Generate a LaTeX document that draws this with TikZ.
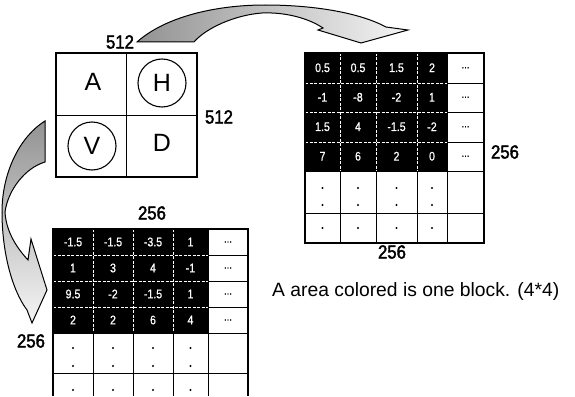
\documentclass[tikz,border=0pt]{standalone}
\usepackage{fontspec}
\setmainfont{Liberation Sans}
\newfontfamily\labfont[FakeStretch=0.88,FakeBold=2]{Liberation Sans}
\newfontfamily\cellfont[FakeStretch=0.85,FakeBold=0.8]{Liberation Sans}
\begin{document}
\begin{tikzpicture}[x=1pt,y=-1pt,
  lab/.style={font=\labfont\fontsize{19}{19}\selectfont, inner sep=0},
  letter/.style={font=\fontsize{25}{25}\selectfont, inner sep=0},
  num/.style={font=\cellfont\fontsize{12.5}{12.5}\selectfont, text=white, inner sep=0},
  ell/.style={font=\cellfont\fontsize{11}{11}\selectfont, inner sep=0},
  outerline/.style={line width=1.7pt},
  gridline/.style={line width=0.9pt},
  wgrid/.style={white, line width=0.5pt, dash pattern=on 3pt off 1.5pt},
  ribbon/.style={draw=black, line width=1pt}]
\useasboundingbox (0,0) rectangle (575,396);

% ---------- curved arrows ----------
\shade[ribbon, left color=gray!85, right color=gray!8]
 (137,42) .. controls (165,17) and (215,5) .. (265,5)
 .. controls (315,5) and (360,13) .. (386,27)
 -- (408,30) -- (361,43) -- (318,30) -- (323,28)
 .. controls (308,18) and (285,12) .. (262,13)
 .. controls (235,15) and (206,28) .. (194,42)
 -- cycle;
\shade[ribbon, top color=gray!85, bottom color=gray!8]
 (45,121) .. controls (18,138) and (2,175) .. (2,212)
 .. controls (2,252) and (12,290) .. (27,310)
 -- (32,323) -- (47,290) -- (31,239) -- (28,260)
 .. controls (15,246) and (6,230) .. (5,212)
 .. controls (8,190) and (25,168) .. (45,162)
 -- cycle;

% ---------- main square ----------
\draw[line width=1.9pt] (56,53) rectangle (197,177);
\draw[line width=1pt] (126.5,53) -- (126.5,177) (56,115) -- (197,115);
\node[letter] (A) at (93,82) {A};
\node[letter, draw, circle, minimum size=48pt, line width=1.1pt] (H) at (162,83) {H};
\node[letter, draw, circle, minimum size=48pt, line width=1.1pt] (V) at (92,146) {V};
\node[letter] (D) at (162,143) {D};
\node[lab] (t512) at (120,42) {512};
\node[lab] (r512) at (219,117) {512};

% ---------- right table ----------
\fill (305,53) rectangle (447,171);
\draw[wgrid] (305,83) -- (447,83) (305,112) -- (447,112) (305,142) -- (447,142)
             (340,53) -- (340,171) (376,53) -- (376,171) (417,53) -- (417,171);
\foreach \vals [count=\r] in {{0.5,0.5,1.5,2},{-1,-8,-2,1},{1.5,4,-1.5,-2},{7,6,2,0}} {
  \foreach \v [count=\c] in \vals {
    \pgfmathsetmacro\cx{{322.5,358,396.5,432}[\c-1]}
    \node[num] (R-\r-\c) at (\cx,{53+29.5*(\r-0.5)}) {\v};
  }
  \node[ell] (Re-\r) at (465.5,{53+29.5*(\r-0.5)}) {...};
}
\draw[gridline] (447,83) -- (484,83) (447,112) -- (484,112) (447,142) -- (484,142)
                (305,171) -- (484,171) (305,213) -- (484,213)
                (340,171) -- (340,243) (376,171) -- (376,243) (417,171) -- (417,243) (447,53) -- (447,243);
\draw[outerline] (305,53) rectangle (484,243);
\foreach \x in {322.5,358,396.5,432} {
  \fill (\x,188) circle (1.2) (\x,205) circle (1.2) (\x,228) circle (1.2);
}
\node[lab] (rb256) at (392,252) {256};
\node[lab] (rr256) at (505,152) {256};

% ---------- bottom table ----------
\fill (53,229) rectangle (208,333);
\draw[wgrid] (53,255) -- (208,255) (53,281) -- (208,281) (53,307) -- (208,307)
             (93,229) -- (93,333) (133,229) -- (133,333) (173,229) -- (173,333);
\foreach \vals [count=\r] in {{-1.5,-1.5,-3.5,1},{1,3,4,-1},{9.5,-2,-1.5,1},{2,2,6,4}} {
  \foreach \v [count=\c] in \vals {
    \pgfmathsetmacro\cx{{73,113,153,190.5}[\c-1]}
    \node[num] (B-\r-\c) at (\cx,{229+26*(\r-0.5)}) {\v};
  }
  \node[ell] (Be-\r) at (228,{229+26*(\r-0.5)}) {...};
}
\draw[gridline] (208,255) -- (248,255) (208,281) -- (248,281) (208,307) -- (248,307)
                (53,333) -- (248,333) (53,373) -- (248,373)
                (93,333) -- (93,396) (133,333) -- (133,396) (173,333) -- (173,396) (208,229) -- (208,396);
\draw[outerline] (53,396) -- (53,229) -- (248,229) -- (248,396);
\foreach \x in {73,113,153,190.5} {
  \fill (\x,348) circle (1.2) (\x,366) circle (1.2) (\x,390) circle (1.2);
}
\node[lab] (bt256) at (152,213) {256};
\node[lab] (bl256) at (31,341) {256};

% ---------- caption ----------
\node[anchor=west, inner sep=0, font=\fontsize{19.3}{19.3}\selectfont] (cap) at (272,292) {A area colored is one block. (4*4)};
\end{tikzpicture}
\end{document}
